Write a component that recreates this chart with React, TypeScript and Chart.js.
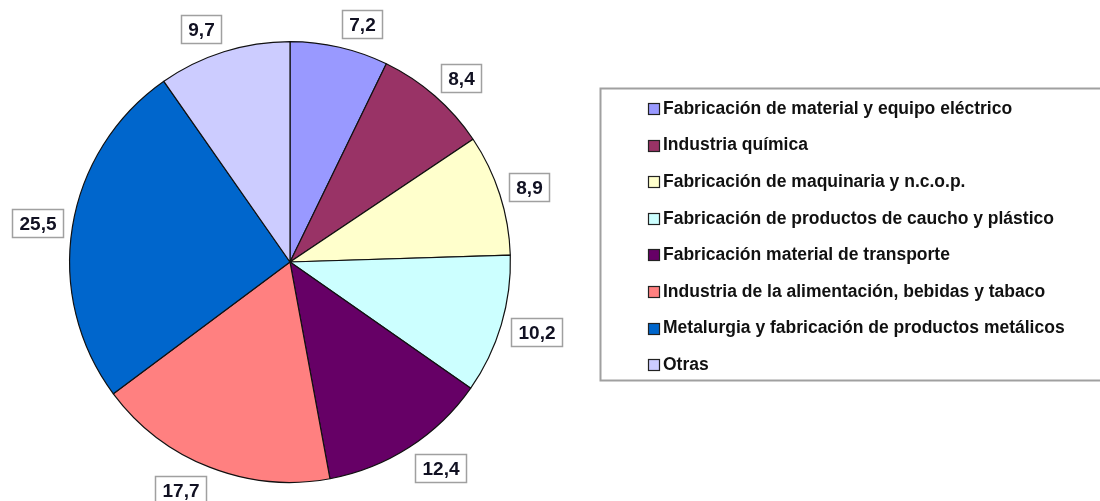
import React, { useEffect, useRef } from "react";
import { Chart, registerables } from "chart.js";

Chart.register(...registerables);

const categories: string[] = [
  "Fabricación de material y equipo eléctrico",
  "Industria química",
  "Fabricación de maquinaria y n.c.o.p.",
  "Fabricación de productos de caucho y plástico",
  "Fabricación material de transporte",
  "Industria de la alimentación, bebidas y tabaco",
  "Metalurgia y fabricación de productos metálicos",
  "Otras",
];

const values: number[] = [7.2, 8.4, 8.9, 10.2, 12.4, 17.7, 25.5, 9.7];

const colors: string[] = [
  "#9999FF",
  "#993366",
  "#FFFFCC",
  "#CCFFFF",
  "#660066",
  "#FF8080",
  "#0066CC",
  "#CCCCFF",
];

const fmt = (v: number) => v.toFixed(1).replace(".", ",");

const labelPlugin = {
  id: "boxLabels",
  afterDatasetsDraw(chart: any) {
    const ctx = chart.ctx;
    const meta = chart.getDatasetMeta(0);
    ctx.save();
    ctx.font = "bold 19px 'Liberation Sans', Arial, sans-serif";
    ctx.textAlign = "center";
    ctx.textBaseline = "middle";
    meta.data.forEach((arc: any, i: number) => {
      const { x, y, startAngle, endAngle, outerRadius } = arc.getProps(
        ["x", "y", "startAngle", "endAngle", "outerRadius"],
        true
      );
      const mid = (startAngle + endAngle) / 2;
      const txt = fmt(values[i]);
      const tw = ctx.measureText(txt).width;
      const bw = Math.round(tw + 14);
      const bh = 28;
      const c = Math.cos(mid);
      const s = Math.sin(mid);
      const R = outerRadius + 10;
      const cx = x + R * c + Math.sign(c) * (bw / 2);
      const cy = y + R * s + s * (bh / 2);
      const bx = Math.round(cx - bw / 2) + 0.5;
      const by = Math.round(cy - bh / 2) + 0.5;
      ctx.fillStyle = "#ffffff";
      ctx.fillRect(bx, by, bw, bh);
      ctx.strokeStyle = "#a0a0a0";
      ctx.lineWidth = 1.5;
      ctx.strokeRect(bx, by, bw, bh);
      ctx.fillStyle = "#111122";
      ctx.fillText(txt, bx + bw / 2, by + bh / 2 + 1);
    });
    ctx.restore();
  },
};

const legendPlugin = {
  id: "boxLegend",
  afterDraw(chart: any) {
    const ctx = chart.ctx;
    ctx.save();
    const lx = 600.5;
    const ly = 88.5;
    const lw = 510;
    const lh = 292;
    ctx.strokeStyle = "#a0a0a0";
    ctx.lineWidth = 2;
    ctx.strokeRect(lx, ly, lw, lh);
    ctx.font = "bold 17.5px 'Liberation Sans', Arial, sans-serif";
    ctx.textBaseline = "middle";
    ctx.textAlign = "left";
    const rowH = 36.6;
    categories.forEach((cat, i) => {
      const cy = 108 + i * rowH;
      const sy = Math.round(cy - 5) + 0.5;
      ctx.fillStyle = colors[i];
      ctx.fillRect(648.5, sy, 11, 11);
      ctx.strokeStyle = "#222";
      ctx.lineWidth = 1.2;
      ctx.strokeRect(648.5, sy, 11, 11);
      ctx.fillStyle = "#111";
      ctx.fillText(cat, 663, cy + 1);
    });
    ctx.restore();
  },
};

export default function App() {
  const ref = useRef<HTMLCanvasElement | null>(null);
  useEffect(() => {
    document.body.style.margin = "0";
    const canvas = ref.current!;
    const chart = new Chart(canvas, {
      type: "pie",
      data: {
        labels: categories,
        datasets: [
          {
            data: values,
            backgroundColor: colors,
            borderColor: "#111111",
            borderWidth: 1.2,
          },
        ],
      },
      options: {
        responsive: false,
        animation: false,
        layout: { padding: { left: 69, right: 589, top: 41, bottom: 18 } },
        plugins: {
          legend: { display: false },
          tooltip: { enabled: false },
        },
      },
      plugins: [labelPlugin, legendPlugin],
    });
    return () => chart.destroy();
  }, []);
  return (
    <div style={{ position: "absolute", left: 0, top: 0, width: 1100, height: 501, background: "#fff" }}>
      <canvas ref={ref} width={1100} height={501} style={{ width: 1100, height: 501 }} />
    </div>
  );
}
